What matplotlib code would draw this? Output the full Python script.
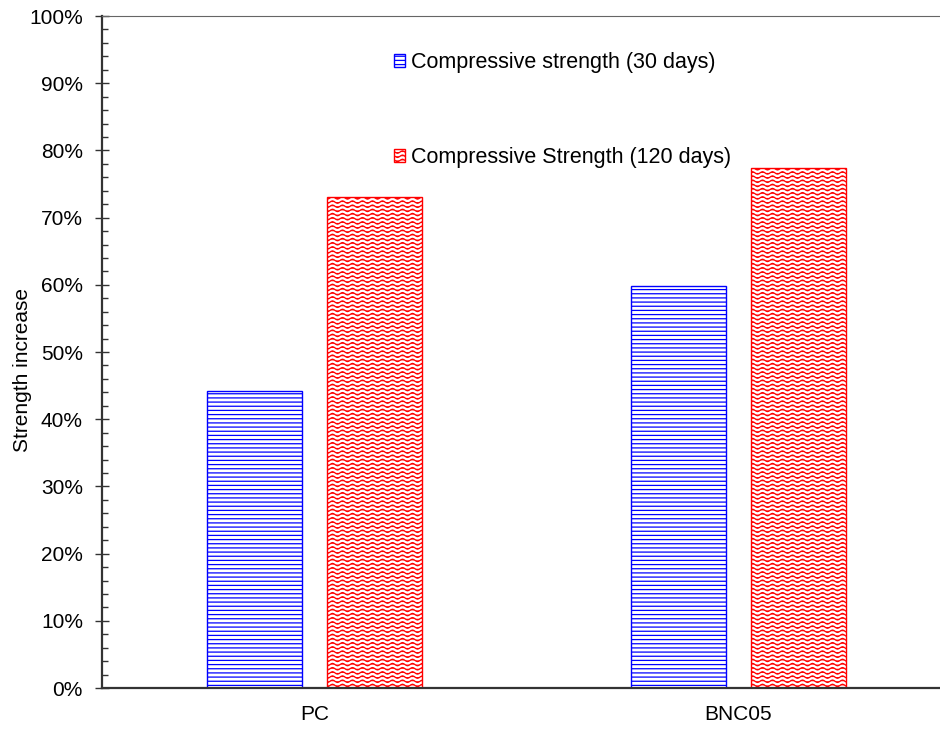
import warnings

import matplotlib
matplotlib.use("Agg")
import matplotlib.hatch as mhatch
import matplotlib.pyplot as plt
import numpy as np
from matplotlib.path import Path
from matplotlib.ticker import MultipleLocator, PercentFormatter

warnings.filterwarnings("ignore")

categories = ["PC", "BNC05"]
series_labels = ["Compressive strength (30 days)", "Compressive Strength (120 days)"]
strength_30d = [0.442, 0.598]
strength_120d = [0.731, 0.774]


class WaveHatch(mhatch.HatchPatternBase):
    """Rows of small sine waves, drawn for the '~' hatch character."""

    samples = 81
    periods = 10

    def __init__(self, hatch, density):
        self.num_rows = int(hatch.count("~") * density)
        self.num_vertices = self.num_rows * self.samples

    def set_vertices_and_codes(self, vertices, codes):
        rows, step = np.linspace(0.0, 1.0, self.num_rows, False, retstep=True)
        rows += step / 2.0
        xs = np.linspace(0.0, 1.0, self.samples)
        wave = 0.012 * np.sin(2 * np.pi * self.periods * xs)
        for i, y0 in enumerate(rows):
            sl = slice(i * self.samples, (i + 1) * self.samples)
            vertices[sl, 0] = xs
            vertices[sl, 1] = y0 + wave
            codes[sl] = Path.LINETO
            codes[i * self.samples] = Path.MOVETO


mhatch._hatch_types.append(WaveHatch)

plt.rcParams["font.family"] = ["Liberation Sans", "DejaVu Sans"]
plt.rcParams["hatch.linewidth"] = 0.9

fig = plt.figure(figsize=(9.4, 7.29), dpi=100)
ax = fig.add_axes([0.1085, 0.0562, 0.8915, 0.9218])

x = np.arange(len(categories))
width = 0.224
offset = 0.142
bars_30 = ax.bar(x - offset, strength_30d, width, color="white", edgecolor="#0000ff",
                 hatch="----", linewidth=1.0, label=series_labels[0])
bars_120 = ax.bar(x + offset, strength_120d, width, color="white", edgecolor="#ff0000",
                  hatch="~~~~", linewidth=1.0, label=series_labels[1])

ax.set_xlim(-0.501, 1.475)
ax.set_ylim(0, 1.0)
ax.set_xticks(x)
ax.set_xticklabels(categories, fontsize=15)
ax.tick_params(axis="x", length=0, pad=12)

ax.yaxis.set_major_locator(MultipleLocator(0.1))
ax.yaxis.set_minor_locator(MultipleLocator(0.02))
ax.yaxis.set_major_formatter(PercentFormatter(1.0, decimals=0))
ax.tick_params(axis="y", which="major", direction="inout", length=9.5, width=1.0,
               labelsize=15, pad=9, color="#333333")
ax.tick_params(axis="y", which="minor", direction="in", length=4, width=1.0, color="#333333")
ax.set_ylabel("Strength increase", fontsize=15)
ax.yaxis.set_label_coords(-0.083, 0.473)

for side in ("left", "bottom"):
    ax.spines[side].set_linewidth(1.6)
    ax.spines[side].set_color("#333333")
ax.spines["top"].set_linewidth(0.8)
ax.spines["top"].set_color("#666666")
ax.spines["right"].set_visible(False)

ax.legend(handles=[bars_30, bars_120], loc="upper left",
          bbox_to_anchor=(0.419, 0.928), bbox_transform=fig.transFigure,
          frameon=False, fontsize=15.5, handlelength=0.5, handleheight=0.55,
          handletextpad=0.3, labelspacing=3.4, borderpad=0, borderaxespad=0)

fig.savefig("out.png", dpi=100)
